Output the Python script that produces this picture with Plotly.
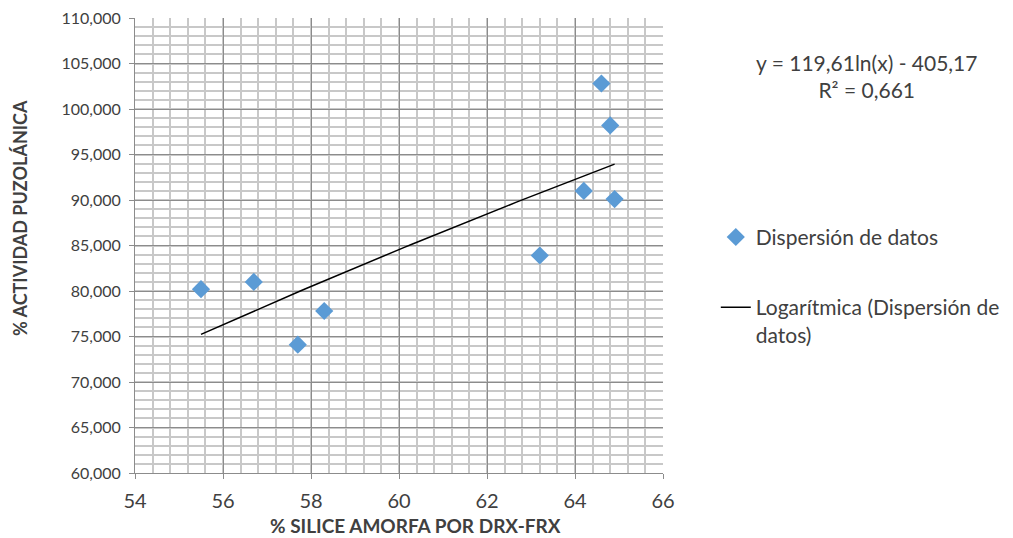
import numpy as np
import plotly.graph_objects as go

# Data
silice_x = [55.5, 56.7, 57.7, 58.3, 63.2, 64.2, 64.6, 64.8, 64.9]
actividad_y = [80.2, 81.0, 74.1, 77.8, 83.9, 91.0, 102.8, 98.2, 90.1]

# Logarithmic trend line coefficients (as printed on the chart)
coef_a = 119.61
coef_b = -405.17
r2_text = "0,661"

y_ticks = [60, 65, 70, 75, 80, 85, 90, 95, 100, 105, 110]
y_ticktext = ["60,000", "65,000", "70,000", "75,000", "80,000", "85,000",
              "90,000", "95,000", "100,000", "105,000", "110,000"]
x_ticks = [54, 56, 58, 60, 62, 64, 66]

x_title = "% SILICE AMORFA POR DRX-FRX"
y_title = "% ACTIVIDAD PUZOLÁNICA"

trend_x = np.linspace(min(silice_x), max(silice_x), 60)
trend_y = coef_a * np.log(trend_x) + coef_b

FONT = "Lato"
TXT = "#404040"

fig = go.Figure()
fig.add_trace(go.Scatter(
    x=silice_x, y=actividad_y, mode="markers", name="Dispersión de datos",
    marker=dict(symbol="diamond", size=14, color="#5B9BD5"),
    legendgroup="a",
))
fig.add_trace(go.Scatter(
    x=trend_x, y=trend_y, mode="lines",
    name="Logarítmica (Dispersión de<br>datos)",
    line=dict(color="black", width=1.5),
    legendgroup="b",
))

fig.update_layout(
    width=1013, height=538,
    margin=dict(l=135, r=350, t=18, b=65, autoexpand=False),
    paper_bgcolor="white", plot_bgcolor="white",
    font=dict(family=FONT, size=17, color=TXT),
    legend=dict(x=1.1, xanchor="left", y=0.563, yanchor="top",
                traceorder="grouped", tracegroupgap=40, valign="top",
                font=dict(size=21, color=TXT, family=FONT),
                bgcolor="rgba(0,0,0,0)"),
    xaxis=dict(
        range=[54, 66], tickvals=x_ticks, ticktext=[str(v) for v in x_ticks],
        showgrid=True, gridcolor="#8c8c8c", gridwidth=1,
        minor=dict(dtick=0.4, showgrid=True, gridcolor="#c8c8c8", gridwidth=1.5),
        showline=True, linecolor="#8c8c8c", linewidth=1,
        ticks="outside", ticklen=5, tickcolor="#8c8c8c",
        ticklabelstandoff=5,
        zeroline=False,
        tickfont=dict(size=20, color=TXT),
    ),
    yaxis=dict(
        range=[60, 110], tickvals=y_ticks, ticktext=y_ticktext,
        showgrid=True, gridcolor="#8c8c8c", gridwidth=1,
        minor=dict(dtick=1, showgrid=True, gridcolor="#c8c8c8", gridwidth=1.5),
        showline=True, linecolor="#8c8c8c", linewidth=1,
        ticks="outside", ticklen=5, tickcolor="#8c8c8c",
        ticklabelstandoff=5,
        zeroline=False,
        tickfont=dict(size=16, color=TXT),
    ),
    annotations=[
        dict(xref="paper", yref="paper", x=(866 - 135) / 528, y=(473 - 48) / 455,
             xanchor="center", yanchor="top",
             text=f"y = {str(coef_a).replace('.', ',')}ln(x) - {str(-coef_b).replace('.', ',')}<br>R² = {r2_text}",
             showarrow=False, align="center", font=dict(size=21, color=TXT, family=FONT)),
        dict(xref="paper", yref="paper", x=(415 - 135) / 528, y=(473 - 525) / 455,
             xanchor="center", yanchor="middle", text=f"<b>{x_title}</b>",
             showarrow=False, font=dict(size=19, color=TXT, family=FONT)),
        dict(xref="paper", yref="paper", x=(20 - 135) / 528, y=(473 - 218) / 455,
             xanchor="center", yanchor="middle", text=f"<b>{y_title}</b>", textangle=-90,
             showarrow=False, font=dict(size=18, color=TXT, family=FONT)),
    ],
)

fig.write_html("out.html")
